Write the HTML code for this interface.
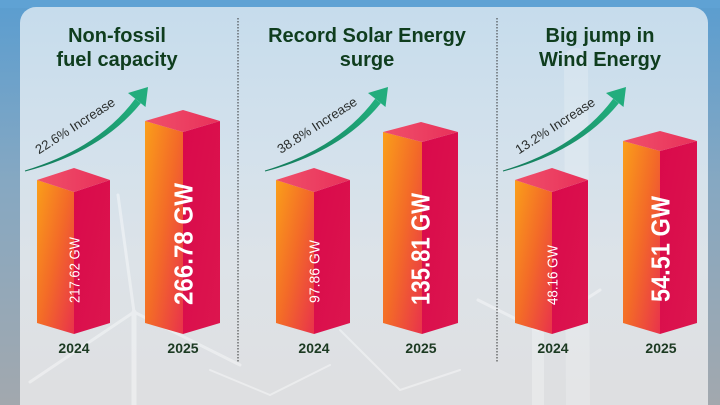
<!DOCTYPE html>
<html>
<head>
<meta charset="utf-8">
<style>
  html,body{margin:0;padding:0;background:#8fa9bd;width:720px;height:405px;overflow:hidden;}
  svg{display:block;overflow:hidden;}
  .t{font-family:"Liberation Sans",sans-serif;font-weight:bold;font-size:20px;fill:#0f3d1e;text-anchor:middle;}
  .yr{font-family:"Liberation Sans",sans-serif;font-weight:bold;font-size:14px;fill:#1c3a22;text-anchor:middle;}
  .inc{font-family:"Liberation Sans",sans-serif;font-size:13px;fill:#2b2f2e;text-anchor:middle;}
  .vs{font-family:"Liberation Sans",sans-serif;font-size:15px;fill:#ffffff;}
  .vb{font-family:"Liberation Sans",sans-serif;font-weight:bold;font-size:26px;fill:#ffffff;}
</style>
</head>
<body>
<svg width="720" height="405" viewBox="0 0 720 405" xmlns="http://www.w3.org/2000/svg">
  <defs>
    <linearGradient id="outer" x1="0" y1="0" x2="0" y2="1">
      <stop offset="0" stop-color="#5a9dd0"/>
      <stop offset="0.45" stop-color="#86a8c2"/>
      <stop offset="1" stop-color="#a2a8ae"/>
    </linearGradient>
    <linearGradient id="panel" x1="0" y1="0" x2="0" y2="1">
      <stop offset="0" stop-color="#c6dcec"/>
      <stop offset="0.35" stop-color="#d3e1ec"/>
      <stop offset="0.65" stop-color="#dde3e8"/>
      <stop offset="1" stop-color="#dedfe1"/>
    </linearGradient>
    <linearGradient id="lf" x1="0" y1="0.05" x2="1" y2="0.95">
      <stop offset="0" stop-color="#fa9c1a"/>
      <stop offset="0.5" stop-color="#f36a28"/>
      <stop offset="1" stop-color="#e9354a"/>
    </linearGradient>
    <linearGradient id="rf" x1="0" y1="0" x2="1" y2="1">
      <stop offset="0" stop-color="#d9094b"/>
      <stop offset="1" stop-color="#dc164e"/>
    </linearGradient>
    <linearGradient id="tf" x1="0" y1="0" x2="1" y2="0">
      <stop offset="0" stop-color="#f0506a"/>
      <stop offset="1" stop-color="#e8305a"/>
    </linearGradient>
    <linearGradient id="ag" x1="0" y1="1" x2="1" y2="0">
      <stop offset="0" stop-color="#137a5a"/>
      <stop offset="1" stop-color="#22b07e"/>
    </linearGradient>
    <g id="arrow">
      <path d="M24.9 170.5 Q99 148 135.2 98.8 L140.8 103.2 Q101 152 25.1 171.5 Z" fill="url(#ag)"/>
      <path d="M148 87 L145.5 107 L137.5 100.5 L128 93 Z" fill="#22ad7d"/>
    </g>
  </defs>

  <!-- outer background -->
  <rect x="0" y="0" width="720" height="405" fill="url(#outer)"/>
  <rect x="0" y="0" width="720" height="8" fill="#5fa2d4"/>

  <!-- panel -->
  <rect x="20" y="7" width="688" height="398" fill="url(#panel)" rx="16"/>
  <rect x="20" y="380" width="688" height="25" fill="#dedfe1"/>

  <!-- faint turbines -->
  <g stroke="#ffffff" stroke-linecap="round" fill="none" opacity="0.4">
    <line x1="134" y1="312" x2="134" y2="405" stroke-width="5"/>
    <line x1="134" y1="312" x2="118" y2="195" stroke-width="3"/>
    <line x1="134" y1="312" x2="30" y2="382" stroke-width="3"/>
    <line x1="134" y1="312" x2="240" y2="365" stroke-width="3"/>
    <line x1="270" y1="395" x2="330" y2="365" stroke-width="2"/>
    <line x1="270" y1="395" x2="210" y2="370" stroke-width="2"/>
    <line x1="576" y1="60" x2="578" y2="405" stroke-width="24" opacity="0.5"/>
    <line x1="538" y1="330" x2="538" y2="405" stroke-width="12" opacity="0.7"/>
    <line x1="538" y1="330" x2="478" y2="300" stroke-width="3"/>
    <line x1="538" y1="330" x2="600" y2="290" stroke-width="3"/>
    <line x1="400" y1="390" x2="340" y2="330" stroke-width="2"/>
    <line x1="400" y1="390" x2="460" y2="370" stroke-width="2"/>
  </g>

  <!-- dotted dividers -->
  <line x1="238" y1="18" x2="238" y2="363" stroke="#333" stroke-width="1" stroke-dasharray="1.5 1.5"/>
  <line x1="497" y1="18" x2="497" y2="363" stroke="#333" stroke-width="1" stroke-dasharray="1.5 1.5"/>

  <!-- titles -->
  <text class="t" x="117" y="42">Non-fossil</text>
  <text class="t" x="117" y="66">fuel capacity</text>
  <text class="t" x="367" y="42">Record Solar Energy</text>
  <text class="t" x="367" y="66">surge</text>
  <text class="t" x="600" y="42">Big jump in</text>
  <text class="t" x="600" y="66">Wind Energy</text>

  <!-- arrows -->
  <use href="#arrow"/>
  <use href="#arrow" transform="translate(240,0)"/>
  <use href="#arrow" transform="translate(478,0)"/>

  <text class="inc" transform="translate(77.5,129.5) rotate(-33)" textLength="92" lengthAdjust="spacingAndGlyphs">22.6% Increase</text>
  <text class="inc" transform="translate(319.5,129) rotate(-33)" textLength="92" lengthAdjust="spacingAndGlyphs">38.8% Increase</text>
  <text class="inc" transform="translate(557.5,129.5) rotate(-33)" textLength="92" lengthAdjust="spacingAndGlyphs">13.2% Increase</text>

  <!-- Panel 1 bars -->
  <polygon points="37,180 74,192 74,334 37,323" fill="url(#lf)"/>
  <polygon points="74,192 110,180 110,323 74,334" fill="url(#rf)"/>
  <polygon points="37,180 74,168 110,180 74,192" fill="url(#tf)"/>

  <polygon points="145,121 183,132 183,334 145,323" fill="url(#lf)"/>
  <polygon points="183,132 220,121 220,323 183,334" fill="url(#rf)"/>
  <polygon points="145,121 183,110 220,121 183,132" fill="url(#tf)"/>

  <!-- Panel 2 bars -->
  <polygon points="276,180 314,192 314,334 276,323" fill="url(#lf)"/>
  <polygon points="314,192 350,180 350,323 314,334" fill="url(#rf)"/>
  <polygon points="276,180 314,168 350,180 314,192" fill="url(#tf)"/>

  <polygon points="383,132 422,142 422,334 383,323" fill="url(#lf)"/>
  <polygon points="422,142 458,132 458,323 422,334" fill="url(#rf)"/>
  <polygon points="383,132 421,122 458,132 422,142" fill="url(#tf)"/>

  <!-- Panel 3 bars -->
  <polygon points="515,180 552,192 552,334 515,323" fill="url(#lf)"/>
  <polygon points="552,192 588,180 588,323 552,334" fill="url(#rf)"/>
  <polygon points="515,180 552,168 588,180 552,192" fill="url(#tf)"/>

  <polygon points="623,141 660,151 660,334 623,323" fill="url(#lf)"/>
  <polygon points="660,151 697,141 697,323 660,334" fill="url(#rf)"/>
  <polygon points="623,141 660,131 697,141 660,151" fill="url(#tf)"/>

  <!-- value labels (rotated) -->
  <text class="vs" transform="translate(79.5,303) rotate(-90)" textLength="66" lengthAdjust="spacingAndGlyphs">217.62 GW</text>
  <text class="vb" transform="translate(192.5,305) rotate(-90)" textLength="122" lengthAdjust="spacingAndGlyphs">266.78 GW</text>

  <text class="vs" transform="translate(319.5,303) rotate(-90)" textLength="63" lengthAdjust="spacingAndGlyphs">97.86 GW</text>
  <text class="vb" transform="translate(429.5,305) rotate(-90)" textLength="112" lengthAdjust="spacingAndGlyphs">135.81 GW</text>

  <text class="vs" transform="translate(557.5,305) rotate(-90)" textLength="60" lengthAdjust="spacingAndGlyphs">48.16 GW</text>
  <text class="vb" transform="translate(669.5,302) rotate(-90)" textLength="106" lengthAdjust="spacingAndGlyphs">54.51 GW</text>

  <!-- year labels -->
  <text class="yr" x="74" y="353">2024</text>
  <text class="yr" x="183" y="353">2025</text>
  <text class="yr" x="314" y="353">2024</text>
  <text class="yr" x="421" y="353">2025</text>
  <text class="yr" x="553" y="353">2024</text>
  <text class="yr" x="661" y="353">2025</text>
</svg>
</body>
</html>
